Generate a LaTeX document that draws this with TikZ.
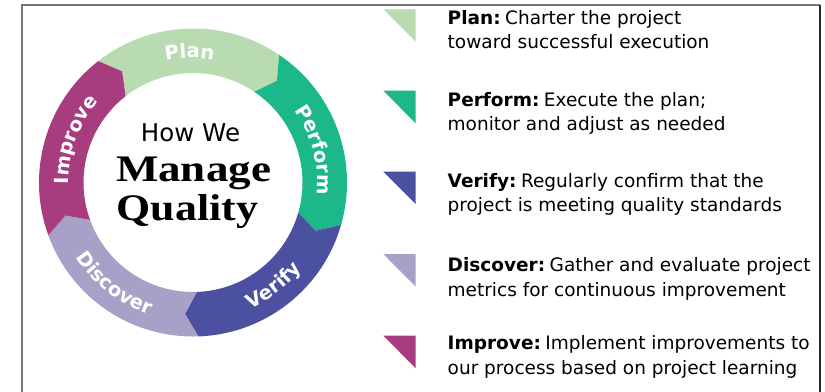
\documentclass[tikz,border=0pt]{standalone}
\usepackage{fontspec}
\setmainfont{DejaVu Sans}
\newfontfamily\headserif{Liberation Serif}
\usetikzlibrary{decorations.text}
\definecolor{planc}{HTML}{B8DBB2}
\definecolor{perfc}{HTML}{1CB88A}
\definecolor{verc}{HTML}{4B50A0}
\definecolor{discc}{HTML}{A9A0C8}
\definecolor{impc}{HTML}{A73D7E}
\definecolor{framec}{HTML}{767676}
\newcommand{\lhead}[1]{\textbf{#1}\hspace{4.5bp}}
\tikzset{
  legend/.style={anchor=base west, inner sep=0pt, outer sep=0pt, font=\fontsize{18.5bp}{22bp}\selectfont, text=black},
  ringlabel/.style={decorate, decoration={text along path, text color=white, text align=center,
      text={|\fontsize{19.5bp}{20bp}\selectfont\bfseries|#1}}}
}
\begin{document}
\begin{tikzpicture}[x=1bp,y=1bp]
\useasboundingbox (0,0) rectangle (825,391);
% frame
\draw[framec, line width=1.5bp] (22,-2) -- (22,386) -- (820,386);
\draw[black!85, line width=1.5bp] (820,386) -- (820,-2);

% ring
\begin{scope}[shift={(193,208.5)}]
  \def\Ro{154}\def\Ri{109.5}\def\Rm{131.75}\def\d{5.5}
  \fill[planc] (128:\Ro) arc[start angle=128,end angle=56,radius=154bp] -- (56-\d:\Rm) -- (56:\Ri)
     arc[start angle=56,end angle=128,radius=109.5bp] -- (128-\d:\Rm) -- cycle;
  \fill[perfc] (56:\Ro) arc[start angle=56,end angle=-16,radius=154bp] -- (-16-\d:\Rm) -- (-16:\Ri)
     arc[start angle=-16,end angle=56,radius=109.5bp] -- (56-\d:\Rm) -- cycle;
  \fill[verc] (-16:\Ro) arc[start angle=-16,end angle=-88,radius=154bp] -- (-88-\d:\Rm) -- (-88:\Ri)
     arc[start angle=-88,end angle=-16,radius=109.5bp] -- (-16-\d:\Rm) -- cycle;
  \fill[discc] (-88:\Ro) arc[start angle=-88,end angle=-160,radius=154bp] -- (-160-\d:\Rm) -- (-160:\Ri)
     arc[start angle=-160,end angle=-88,radius=109.5bp] -- (-88-\d:\Rm) -- cycle;
  \fill[impc] (200:\Ro) arc[start angle=200,end angle=128,radius=154bp] -- (128-\d:\Rm) -- (128:\Ri)
     arc[start angle=128,end angle=200,radius=109.5bp] -- (200-\d:\Rm) -- cycle;
  % ring labels
  \path[ringlabel=Plan] (121.5:124.5) arc[start angle=121.5,end angle=61.5,radius=124.5bp];
  \path[ringlabel=Perform] (45:124.5) arc[start angle=45,end angle=-15,radius=124.5bp];
  \path[ringlabel=Verify] (-82:139) arc[start angle=-82,end angle=-22,radius=139bp];
  \path[ringlabel=Discover] (202:139) arc[start angle=202,end angle=262,radius=139bp];
  \path[ringlabel=Improve] (190:124.5) arc[start angle=190,end angle=130,radius=124.5bp];
\end{scope}

% centre title
\node[anchor=base, inner sep=0pt, font=\fontsize{24.5bp}{26bp}\selectfont] (how) at (190.5,249.3) {How We};
\node[anchor=base, inner sep=0pt, font=\fontsize{37.5bp}{40bp}\headserif\bfseries] (manage) at (193.5,209.3) {\scalebox{1.2}[1]{Manage}};
\node[anchor=base, inner sep=0pt, font=\fontsize{37.5bp}{40bp}\headserif\bfseries] (quality) at (187.5,171) {\scalebox{1.17}[1]{Quality}};

% legend triangles
\fill[planc] (383.3,381.7) -- (415.7,381.7) -- (415.7,349.3) -- cycle;
\fill[perfc] (383.3,300.3) -- (415.7,300.3) -- (415.7,267.7) -- cycle;
\fill[verc]  (383.3,219.3) -- (415.7,219.3) -- (415.7,187) -- cycle;
\fill[discc] (383.3,137) -- (415.7,137) -- (415.7,104.3) -- cycle;
\fill[impc]  (383.3,55.3) -- (415.7,55.3) -- (415.7,22.7) -- cycle;

% legend text
\node[legend] (planA) at (447.7,367) {\lhead{Plan:}Charter the project};
\node[legend] (planB) at (447.7,342.5) {toward successful execution};
\node[legend] (perfA) at (447.7,285) {\lhead{Perform:}Execute the plan;};
\node[legend] (perfB) at (447.7,260.5) {monitor and adjust as needed};
\node[legend] (verA) at (447.7,203.7) {\lhead{Verify:}Regularly confirm that the};
\node[legend] (verB) at (447.7,179.3) {project is meeting quality standards};
\node[legend] (discA) at (447.7,120) {\lhead{Discover:}Gather and evaluate project};
\node[legend] (discB) at (447.7,95) {metrics for continuous improvement};
\node[legend] (impA) at (447.7,41.7) {\lhead{Improve:}Implement improvements to};
\node[legend] (impB) at (447.7,17) {our process based on project learning};
\end{tikzpicture}
\end{document}
